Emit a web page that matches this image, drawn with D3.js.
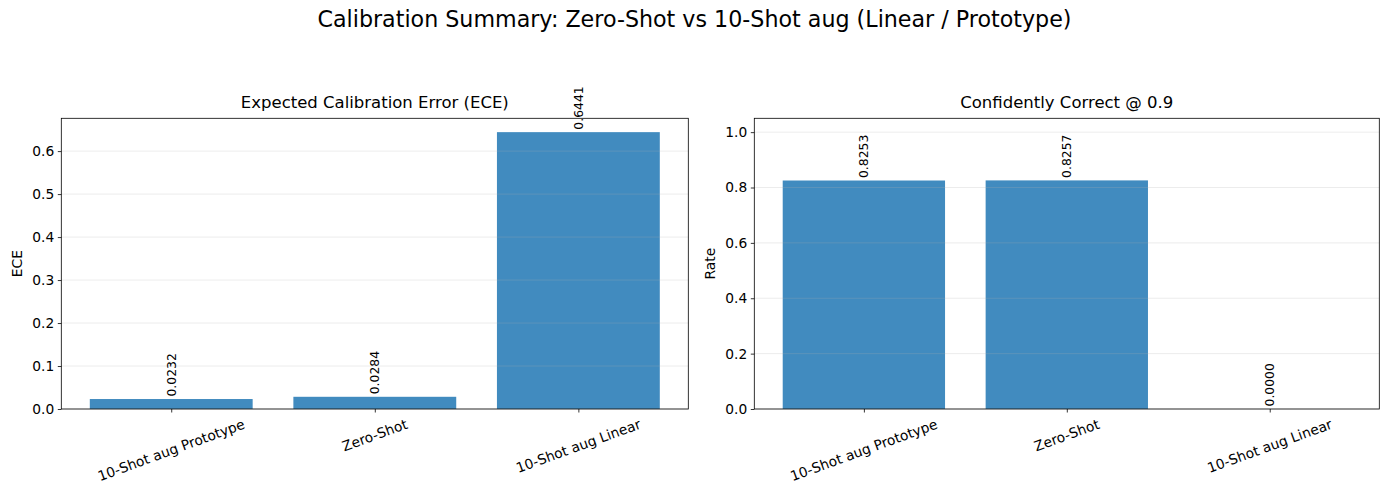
<!DOCTYPE html>
<html><head><meta charset="utf-8">
<script src="https://cdn.jsdelivr.net/npm/d3@7"></script>
<style>body{margin:0;background:#fff;font-family:"DejaVu Sans",sans-serif;}</style>
</head><body>
<svg id="c" width="1389" height="495"></svg>
<script>
const categories = ["10-Shot aug Prototype", "Zero-Shot", "10-Shot aug Linear"];
const eceValues = [0.0232, 0.0284, 0.6441];
const confValues = [0.8253, 0.8257, 0.0000];
const eceTicks = [0.0, 0.1, 0.2, 0.3, 0.4, 0.5, 0.6];
const confTicks = [0.0, 0.2, 0.4, 0.6, 0.8, 1.0];

const svg = d3.select("#c");
const font = "DejaVu Sans, sans-serif";
const barColor = "#418bbf";

svg.append("text").attr("x", 694.5).attr("y", 26.5).attr("text-anchor", "middle")
  .style("font-family", font).style("font-size", "22.2px").attr("fill", "#000")
  .text("Calibration Summary: Zero-Shot vs 10-Shot aug (Linear / Prototype)");

function panel(opts) {
  const {left, right, top, bottom, values, ticks, yMax, title, ylabel, ylabelX, tickFmt} = opts;
  const g = svg.append("g");
  const x = d3.scaleLinear().domain([-0.54, 2.54]).range([left, right]);
  const y = d3.scaleLinear().domain([0, yMax]).range([bottom, top]);
  const bw = x(0.8) - x(0);

  g.selectAll("rect.bar").data(values).join("rect")
    .attr("x", (d, i) => x(i - 0.4)).attr("width", bw)
    .attr("y", d => y(d)).attr("height", d => bottom - y(d))
    .attr("fill", barColor);

  g.selectAll("line.grid").data(ticks).join("line")
    .attr("x1", left).attr("x2", right)
    .attr("y1", d => y(d)).attr("y2", d => y(d))
    .attr("stroke", "#b0b0b0").attr("stroke-opacity", 0.3).attr("stroke-width", 0.8);

  g.selectAll("text.val").data(values).join("text")
    .attr("transform", (d, i) => `translate(${x(i)},${y(d) - 2.5}) rotate(-90)`)
    .attr("dy", "0.35em")
    .attr("text-anchor", "start")
    .style("font-family", font).style("font-size", "12.4px").attr("fill", "#000")
    .text(d => d.toFixed(4));

  const yAxis = d3.axisLeft(y).tickValues(ticks).tickFormat(tickFmt).tickSize(3.5).tickPadding(3.5);
  const ya = g.append("g").attr("transform", `translate(${left},0)`).call(yAxis);
  ya.select(".domain").remove();
  ya.selectAll("text").style("font-family", font).style("font-size", "13.8px").attr("fill", "#000");
  ya.selectAll("line").attr("stroke", "#000").attr("stroke-width", 0.8);

  const xAxis = d3.axisBottom(x).tickValues([0, 1, 2]).tickFormat("").tickSize(3.5);
  const xa = g.append("g").attr("transform", `translate(0,${bottom})`).call(xAxis);
  xa.select(".domain").remove();
  xa.selectAll("line").attr("stroke", "#000").attr("stroke-width", 0.8);

  const a = 20 * Math.PI / 180;
  categories.forEach((c, i) => {
    const t = g.append("text").style("font-family", font).style("font-size", "13.8px")
      .attr("fill", "#000").attr("text-anchor", "middle").attr("dy", "0.35em").text(c);
    const w = t.node().getComputedTextLength();
    const h = 16;
    const bh = w * Math.sin(a) + h * Math.cos(a);
    const cy = bottom + 7 + bh / 2;
    t.attr("transform", `translate(${x(i)},${cy}) rotate(-20)`);
  });

  g.append("rect").attr("x", left).attr("y", top).attr("width", right - left).attr("height", bottom - top)
    .attr("fill", "none").attr("stroke", "#000").attr("stroke-width", 0.8);

  g.append("text").attr("x", (left + right) / 2).attr("y", top - 10.5).attr("text-anchor", "middle")
    .style("font-family", font).style("font-size", "16.5px").attr("fill", "#000").text(title);
  g.append("text").attr("transform", `translate(${ylabelX},${(top + bottom) / 2}) rotate(-90)`)
    .attr("text-anchor", "middle").attr("dy", "0.35em")
    .style("font-family", font).style("font-size", "13.8px").attr("fill", "#000").text(ylabel);
}

panel({left: 61.3, right: 688.3, top: 118.3, bottom: 409, values: eceValues, ticks: eceTicks,
  yMax: 0.6441 * 1.05, title: "Expected Calibration Error (ECE)", ylabel: "ECE", ylabelX: 17,
  tickFmt: d3.format(".1f")});
panel({left: 754.3, right: 1379.3, top: 118.3, bottom: 409, values: confValues, ticks: confTicks,
  yMax: 1.05, title: "Confidently Correct @ 0.9", ylabel: "Rate", ylabelX: 710,
  tickFmt: d3.format(".1f")});
</script>
</body></html>
